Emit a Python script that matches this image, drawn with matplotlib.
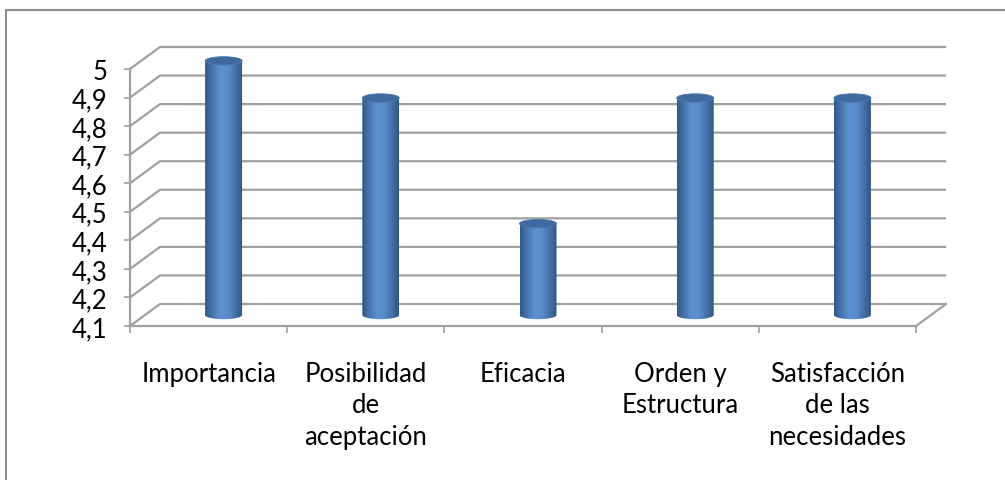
import numpy as np
import matplotlib
matplotlib.use('Agg')
import matplotlib.pyplot as plt
from matplotlib.path import Path
from matplotlib.patches import PathPatch, Ellipse
from matplotlib.colors import LinearSegmentedColormap
from matplotlib.lines import Line2D

plt.rcParams['font.family'] = ['Lato', 'DejaVu Sans']

categories = ['Importancia', 'Posibilidad\nde\naceptación', 'Eficacia',
              'Orden y\nEstructura', 'Satisfacción\nde las\nnecesidades']
values = [4.99, 4.86, 4.42, 4.86, 4.86]
levels = [4.1, 4.2, 4.3, 4.4, 4.5, 4.6, 4.7, 4.8, 4.9, 5.0]
level_labels = ['4,1', '4,2', '4,3', '4,4', '4,5', '4,6', '4,7', '4,8', '4,9', '5']

W, H = 1005, 481
fig = plt.figure(figsize=(W / 100, H / 100), dpi=100)
fig.patch.set_facecolor('white')

# outer frame (runs off the right and bottom edge)
fig.add_artist(Line2D([6 / W, 6 / W, 1.01], [-0.01, 1 - 11 / H, 1 - 11 / H],
                      transform=fig.transFigure, color='#8c8c8c', lw=1.5))

ax = fig.add_axes([130 / W, (H - 327) / H, (916 - 130) / W, (327 - 70) / H])
ax.set_xlim(0, 5)
ax.set_ylim(4.1, 5.0)

grid_c = '#a0a0a0'
# depth offset of the back wall in data units
dx = 30 / (786 / 5)
dy = 22 * 0.9 / 257

for lv in levels:
    ax.plot([0, dx, 5 + dx], [lv, lv + dy, lv + dy], color=grid_c, lw=1.6,
            clip_on=False, zorder=1, solid_capstyle='butt')
# floor right edge
ax.plot([5, 5 + dx], [4.1, 4.1 + dy], color=grid_c, lw=1.6, clip_on=False, zorder=1)

for s in ['top', 'right']:
    ax.spines[s].set_visible(False)
for s in ['left', 'bottom']:
    ax.spines[s].set_color(grid_c)
    ax.spines[s].set_linewidth(1.6)
    ax.spines[s].set_zorder(1)

ax.set_yticks(levels)
ax.set_yticklabels(level_labels)
ax.tick_params(axis='y', direction='out', length=4.3, width=1.2, color=grid_c,
               pad=12, labelsize=18.5, labelcolor='black')
ax.set_xticks(range(6))
ax.set_xticklabels([''] * 6)
ax.tick_params(axis='x', which='major', direction='out', length=5, width=1.2, color=grid_c)
ax.set_xticks(np.arange(len(categories)) + 0.5, minor=True)
ax.set_xticklabels(categories, minor=True, linespacing=1.32, va='top')
ax.tick_params(axis='x', which='minor', length=0, pad=25, labelsize=18.5)
ax.set_facecolor('none')

# cylinders
cmap = LinearSegmentedColormap.from_list('cyl', [
    (0.0, '#2f5687'), (0.12, '#3f6aa2'), (0.4, '#5d91d3'),
    (0.6, '#5a8cca'), (0.88, '#3e679c'), (1.0, '#2f5585')])
grad = np.linspace(0, 1, 256).reshape(1, -1)
cw = 37 / (786 / 5)
eh = 4.2 * 0.9 / 257

for i, v in enumerate(values):
    cx = i + 0.5 + dx / 2
    yb = 4.1 + dy / 2
    yt = v + dy / 2
    t = np.linspace(np.pi, 2 * np.pi, 60)
    xs = np.concatenate([[cx - cw / 2, cx - cw / 2], cx + cw / 2 * np.cos(t), [cx + cw / 2, cx - cw / 2]])
    ys = np.concatenate([[yt, yb], yb + eh * np.sin(t), [yt, yt]])
    body = PathPatch(Path(np.column_stack([xs, ys])), transform=ax.transData,
                     facecolor='none', edgecolor='none')
    im = ax.imshow(grad, cmap=cmap, aspect='auto', interpolation='bilinear',
                   extent=[cx - cw / 2, cx + cw / 2, yb - eh * 1.2, yt], zorder=3)
    im.set_clip_path(body)
    im.set_clip_box(fig.bbox)
    ax.add_patch(Ellipse((cx, yt), cw, 2 * eh, facecolor='#3e6a9f',
                         edgecolor='#4a78b0', lw=0.6, clip_on=False, zorder=4))

ax.set_xlim(0, 5)
ax.set_ylim(4.1, 5.0)

fig.savefig('out.png', dpi=100, facecolor='white')
